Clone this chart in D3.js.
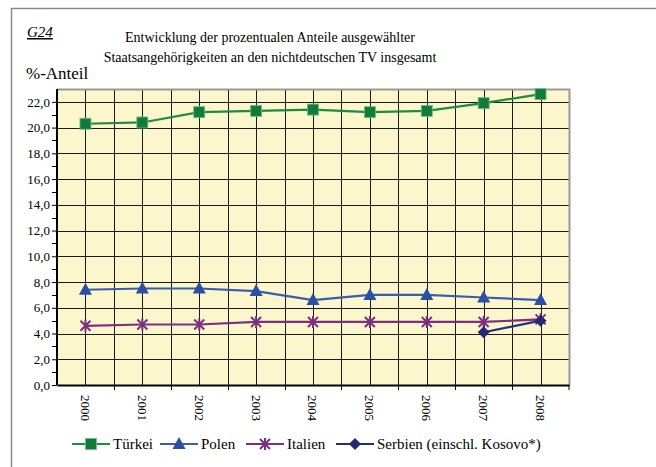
<!DOCTYPE html>
<html>
<head>
<meta charset="utf-8">
<script src="https://cdn.jsdelivr.net/npm/d3@7"></script>
<style>
  body { margin: 0; background: #fff; }
</style>
</head>
<body>
<div class="chart"></div>
<script>
// data
var years = ["2000", "2001", "2002", "2003", "2004", "2005", "2006", "2007", "2008"];
var tuerkei = [20.3, 20.4, 21.2, 21.3, 21.4, 21.2, 21.3, 21.9, 22.6];
var polen   = [7.4, 7.5, 7.5, 7.3, 6.6, 7.0, 7.0, 6.8, 6.6];
var italien = [4.6, 4.7, 4.7, 4.9, 4.9, 4.9, 4.9, 4.9, 5.1];
var serbien = [null, null, null, null, null, null, null, 4.1, 5.0];
var yTicks  = [0, 2, 4, 6, 8, 10, 12, 14, 16, 18, 20, 22];

var serif = "'Liberation Serif', 'Times New Roman', serif";
var width = 656, height = 467;
var plot = {left: 57, right: 569, top: 89, bottom: 385};

var series = [
    {name: "Türkei", values: tuerkei, color: "#1f8a45", fill: "#127a3b", marker: "square"},
    {name: "Polen", values: polen, color: "#3a5cae", fill: "#2b4fa3", marker: "triangle"},
    {name: "Italien", values: italien, color: "#7c2f80", fill: "#7c2f80", marker: "star"},
    {name: "Serbien (einschl. Kosovo*)", values: serbien, color: "#262f78", fill: "#232a70", marker: "diamond"}
];

var svg = d3.select(".chart")
        .append("svg")
        .attr("width", width)
        .attr("height", height)
        .style("font-family", serif);

// outer frame
svg.append("path")
        .attr("d", "M11.5," + height + " V8.5 H" + width)
        .attr("fill", "none")
        .attr("stroke", "#8a8a8a")
        .attr("stroke-width", 1.5);

var x = d3.scaleBand()
        .domain(years)
        .range([plot.left, plot.right]);

var y = d3.scaleLinear()
        .domain([0, 23])
        .range([plot.bottom, plot.top]);

// plot background
svg.append("rect")
        .attr("x", plot.left)
        .attr("y", plot.top)
        .attr("width", plot.right - plot.left)
        .attr("height", plot.bottom - plot.top)
        .attr("fill", "#fbf6cc");

// vertical grid: category centres and boundaries
var vLines = [];
years.forEach(function(d, i) {
    if (i > 0) vLines.push(x(d));
    vLines.push(x(d) + x.bandwidth() / 2);
});
svg.append("g").selectAll("line")
        .data(vLines)
        .enter().append("line")
        .attr("x1", function(d) { return Math.round(d) + 0.5; })
        .attr("x2", function(d) { return Math.round(d) + 0.5; })
        .attr("y1", plot.top)
        .attr("y2", plot.bottom)
        .attr("stroke", "#1a1a1a")
        .attr("stroke-width", 1);

// horizontal grid
svg.append("g").selectAll("line")
        .data(yTicks.slice(1))
        .enter().append("line")
        .attr("x1", plot.left)
        .attr("x2", plot.right)
        .attr("y1", function(d) { return Math.round(y(d)) + 0.5; })
        .attr("y2", function(d) { return Math.round(y(d)) + 0.5; })
        .attr("stroke", "#1a1a1a")
        .attr("stroke-width", 1);

// plot border top/right
svg.append("path")
        .attr("d", "M" + plot.left + "," + (plot.top + 0.5) + " H" + (plot.right + 0.5) + " V" + plot.bottom)
        .attr("fill", "none")
        .attr("stroke", "#999")
        .attr("stroke-width", 2);

// y axis
var yAxis = d3.axisLeft(y)
        .tickValues(yTicks)
        .tickSize(5)
        .tickFormat(function(d) { return d3.format(".1f")(d).replace(".", ","); });
var gy = svg.append("g")
        .attr("transform", "translate(" + plot.left + ",0)")
        .call(yAxis)
        .attr("font-family", serif)
        .attr("font-size", 13);
gy.select(".domain").attr("stroke", "#000").attr("stroke-width", 2).attr("d", "M0," + plot.top + " V" + plot.bottom);
gy.selectAll("text").attr("x", -7);
// minor ticks
gy.selectAll(".minor")
        .data(d3.range(1, 23, 2))
        .enter().append("line")
        .attr("class", "minor")
        .attr("x1", -5).attr("x2", 0)
        .attr("y1", function(d) { return Math.round(y(d)) + 0.5; })
        .attr("y2", function(d) { return Math.round(y(d)) + 0.5; })
        .attr("stroke", "#000");

// x axis
var xAxis = d3.axisBottom(x).tickSize(0).tickSizeOuter(0);
var gx = svg.append("g")
        .attr("transform", "translate(0," + plot.bottom + ")")
        .call(xAxis)
        .attr("font-family", serif)
        .attr("font-size", 13);
gx.select(".domain").attr("stroke", "#000").attr("stroke-width", 2);
gx.selectAll(".tick text")
        .attr("text-anchor", "start")
        .attr("dy", "0.35em")
        .attr("y", 0)
        .attr("transform", "translate(0,10) rotate(90)");
gx.selectAll(".bound")
        .data(years.slice(1).concat(["end"]))
        .enter().append("line")
        .attr("class", "bound")
        .attr("x1", function(d) { return d === "end" ? plot.right : Math.round(x(d)) + 0.5; })
        .attr("x2", function(d) { return d === "end" ? plot.right : Math.round(x(d)) + 0.5; })
        .attr("y1", 0).attr("y2", 5)
        .attr("stroke", "#000");

// series
var line = d3.line()
        .defined(function(d) { return d != null; })
        .x(function(d, i) { return x(years[i]) + x.bandwidth() / 2; })
        .y(function(d) { return y(d); });

function drawMarker(g, type, fill) {
    if (type === "square") {
        g.append("rect").attr("x", -5.5).attr("y", -5.5).attr("width", 11).attr("height", 11)
            .attr("fill", fill).attr("stroke", "#6fbf83").attr("stroke-width", 0.8);
    } else if (type === "triangle") {
        g.append("path").attr("d", "M0,-7 L6.5,5 L-6.5,5 Z").attr("fill", fill);
    } else if (type === "star") {
        g.append("path").attr("d", "M-5,-5 L5,5 M5,-5 L-5,5 M0,-6 V6")
            .attr("stroke", fill).attr("stroke-width", 2).attr("fill", "none");
    } else if (type === "diamond") {
        g.append("path").attr("d", "M0,-6 L6,0 L0,6 L-6,0 Z").attr("fill", fill);
    }
}

series.forEach(function(s) {
    svg.append("path")
        .datum(s.values)
        .attr("d", line)
        .attr("fill", "none")
        .attr("stroke", s.color)
        .attr("stroke-width", 2.2);
    s.values.forEach(function(v, i) {
        if (v == null) return;
        var g = svg.append("g")
            .attr("transform", "translate(" + (x(years[i]) + x.bandwidth() / 2) + "," + y(v) + ")");
        drawMarker(g, s.marker, s.fill);
    });
});

// titles
svg.append("text")
        .attr("x", 27).attr("y", 37)
        .attr("font-size", 15)
        .attr("font-style", "italic")
        .attr("text-decoration", "underline")
        .text("G24");
svg.append("text")
        .attr("x", 270).attr("y", 42)
        .attr("text-anchor", "middle")
        .attr("font-size", 14)
        .text("Entwicklung der prozentualen Anteile ausgewählter");
svg.append("text")
        .attr("x", 270).attr("y", 62)
        .attr("text-anchor", "middle")
        .attr("font-size", 14)
        .text("Staatsangehörigkeiten an den nichtdeutschen TV insgesamt");
svg.append("text")
        .attr("x", 26).attr("y", 79)
        .attr("font-size", 17)
        .text("%-Anteil");

// legend
var legendX = [72, 160, 246, 336];
var legend = svg.append("g").selectAll("g")
        .data(series)
        .enter().append("g")
        .attr("transform", function(d, i) { return "translate(" + legendX[i] + ",444)"; });
legend.append("line")
        .attr("x1", 0).attr("x2", 38)
        .attr("stroke", function(d) { return d.color; })
        .attr("stroke-width", 2);
legend.each(function(d) {
    var g = d3.select(this).append("g").attr("transform", "translate(19,0)");
    drawMarker(g, d.marker, d.fill);
});
legend.append("text")
        .attr("x", 41).attr("dy", "0.35em")
        .attr("font-size", 15)
        .text(function(d) { return d.name; });
</script>
</body>
</html>
